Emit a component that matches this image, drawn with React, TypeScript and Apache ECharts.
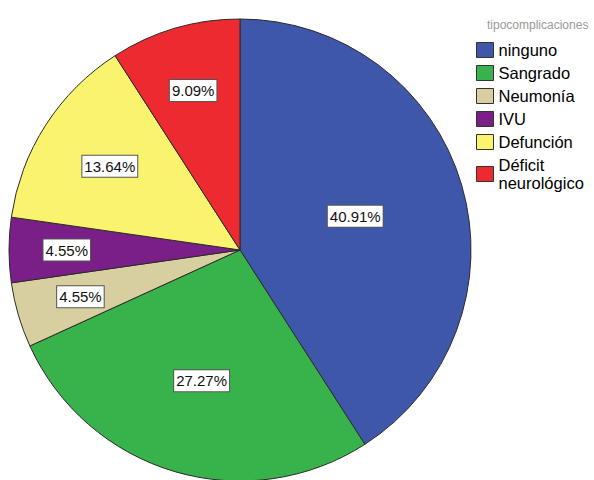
import React, { useEffect, useRef } from "react";
import * as echarts from "echarts";

// Complication categories and their counts
const categories = ["ninguno", "Sangrado", "Neumonía", "IVU", "Defunción", "Déficit neurológico"];
const counts = [9, 6, 1, 1, 3, 2];

// Slice colours, in category order
const colors = ["#3F57AA", "#38B24A", "#D8CFA0", "#7A1E88", "#FAF36E", "#EC2A30"];

// Radial placement of each percentage box, as a share of the pie radius
const labelRadiusShare = [0.52, 0.59, 0.72, 0.75, 0.67, 0.72];

const PIE_CX = 240;
const PIE_CY = 250;
const PIE_R = 231;
const FONT = "Liberation Sans, Arial, sans-serif";

export default function App() {
  const ref = useRef<HTMLDivElement>(null);

  useEffect(() => {
    if (!ref.current) return;
    const chart = echarts.init(ref.current, null, { renderer: "svg" });

    const total = counts.reduce((a, b) => a + b, 0);
    // mid-angle of each slice, measured clockwise from 12 o'clock
    const midAngles: number[] = [];
    let acc = 0;
    counts.forEach((c) => {
      const span = (c / total) * Math.PI * 2;
      midAngles.push(acc + span / 2);
      acc += span;
    });

    chart.setOption({
      animation: false,
      backgroundColor: "#ffffff",
      title: {
        text: "tipocomplicaciones",
        left: 482,
        top: 14,
        textStyle: {
          fontSize: 12,
          fontWeight: "normal",
          color: "#999999",
          fontFamily: FONT,
        },
      },
      legend: {
        orient: "vertical",
        left: 471,
        top: 36,
        itemWidth: 17,
        itemHeight: 15,
        itemGap: 5,
        icon: "rect",
        data: categories,
        itemStyle: { borderColor: "#333333", borderWidth: 1 },
        formatter: (name: string) => (name === "Déficit neurológico" ? "Déficit\nneurológico" : name),
        textStyle: {
          fontSize: 16.5,
          lineHeight: 18,
          color: "#000000",
          fontFamily: FONT,
        },
        selectedMode: false,
      },
      series: [
        {
          type: "pie",
          center: [PIE_CX, PIE_CY],
          radius: PIE_R,
          startAngle: 90,
          clockwise: true,
          avoidLabelOverlap: false,
          silent: true,
          color: colors,
          itemStyle: { borderColor: "#2b2b2b", borderWidth: 1 },
          label: {
            show: true,
            position: "inside",
            formatter: (p: any) => `${((p.value / total) * 100).toFixed(2)}%`,
            fontSize: 15,
            color: "#111111",
            fontFamily: FONT,
            backgroundColor: "#ffffff",
            borderColor: "#555555",
            borderWidth: 1,
            padding: [4, 2, 2, 2],
          },
          labelLine: { show: false },
          labelLayout: (params: any) => {
            const i = params.dataIndex;
            const a = midAngles[i];
            const r = PIE_R * labelRadiusShare[i];
            return {
              x: PIE_CX + r * Math.sin(a),
              y: PIE_CY - r * Math.cos(a),
              align: "center",
              verticalAlign: "middle",
            };
          },
          data: categories.map((name, i) => ({ name, value: counts[i] })),
        },
      ],
    });

    return () => chart.dispose();
  }, []);

  return (
    <div
      ref={ref}
      style={{ position: "fixed", left: 0, top: 0, width: 594, height: 480, background: "#fff" }}
    />
  );
}
